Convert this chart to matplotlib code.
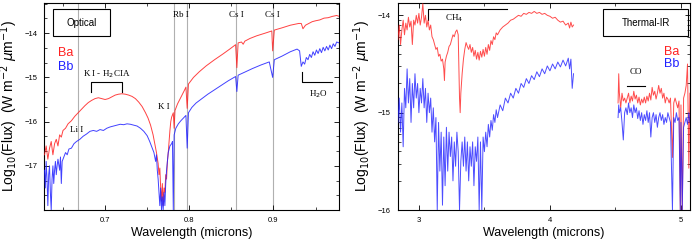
#!/usr/bin/env python3
import numpy as np
import matplotlib
matplotlib.use("Agg")
import matplotlib.pyplot as plt
from matplotlib.patches import Rectangle
from matplotlib.ticker import MultipleLocator, FixedLocator

plt.rcParams['font.family'] = ['Liberation Sans', 'DejaVu Sans']

# ---- optical spectrum, Ba (red) ----
opt_wl_a = [0.628, 0.630, 0.632, 0.634, 0.636, 0.638, 0.640, 0.642, 0.644, 0.646,
            0.648, 0.650, 0.653, 0.656, 0.660, 0.664, 0.668, 0.672, 0.676, 0.680,
            0.684, 0.688, 0.692, 0.696, 0.700, 0.704, 0.708, 0.712, 0.716, 0.720,
            0.724, 0.728, 0.732, 0.736, 0.740, 0.744, 0.748, 0.751, 0.754, 0.757,
            0.759, 0.761, 0.763, 0.764, 0.765, 0.766, 0.767, 0.768, 0.769, 0.770,
            0.771, 0.772, 0.773, 0.774, 0.775, 0.776, 0.777, 0.778, 0.779, 0.780,
            0.781, 0.782, 0.783, 0.786, 0.790, 0.794, 0.796, 0.7975, 0.799, 0.805,
            0.812, 0.820, 0.830, 0.840, 0.848, 0.855, 0.8565, 0.858, 0.862, 0.864,
            0.866, 0.872, 0.880, 0.890, 0.898, 0.899, 0.901, 0.910, 0.920, 0.930,
            0.933, 0.935, 0.938, 0.942, 0.946, 0.950, 0.955, 0.960, 0.965, 0.970,
            0.975, 0.978]
opt_fl_a = [-16.75, -16.55, -16.85, -16.60, -16.45, -16.75, -16.50, -16.40, -16.55, -16.30,
            -16.35, -16.20, -16.15, -16.05, -15.98, -15.88, -15.80, -15.72, -15.64, -15.57,
            -15.52, -15.48, -15.46, -15.48, -15.50, -15.48, -15.44, -15.40, -15.38, -15.37,
            -15.38, -15.40, -15.43, -15.48, -15.56, -15.66, -15.80, -15.92, -16.08, -16.30,
            -16.50, -16.70, -16.95, -17.20, -17.05, -17.50, -17.80, -17.40, -17.90, -17.50,
            -17.60, -17.20, -17.30, -16.90, -16.70, -16.45, -16.20, -16.00, -15.90, -15.85,
            -15.80, -16.15, -15.75, -15.60, -15.45, -15.30, -15.22, -15.70, -15.15, -15.00,
            -14.87, -14.74, -14.60, -14.47, -14.36, -14.26, -14.78, -14.22, -14.20, -14.25,
            -14.18, -14.12, -14.06, -14.00, -13.95, -14.40, -13.93, -13.88, -13.82, -13.78,
            -13.78, -13.90, -13.82, -13.78, -13.74, -13.72, -13.70, -13.66, -13.65, -13.62,
            -13.60, -13.62]

# ---- optical spectrum, Bb (blue) ----
opt_wl_b = [0.628, 0.629, 0.630, 0.631, 0.632, 0.633, 0.634, 0.635, 0.636, 0.637,
            0.638, 0.639, 0.640, 0.641, 0.642, 0.643, 0.644, 0.646, 0.647, 0.648,
            0.649, 0.651, 0.653, 0.655, 0.657, 0.660, 0.663, 0.666, 0.670, 0.674,
            0.678, 0.682, 0.686, 0.690, 0.694, 0.698, 0.702, 0.706, 0.710, 0.714,
            0.718, 0.722, 0.726, 0.730, 0.734, 0.738, 0.742, 0.746, 0.750, 0.753,
            0.756, 0.758, 0.760, 0.761, 0.762, 0.763, 0.764, 0.765, 0.766, 0.767,
            0.768, 0.769, 0.770, 0.771, 0.772, 0.773, 0.774, 0.775, 0.777, 0.779,
            0.780, 0.781, 0.782, 0.784, 0.787, 0.790, 0.794, 0.796, 0.7975, 0.799,
            0.803, 0.808, 0.815, 0.822, 0.830, 0.838, 0.846, 0.855, 0.8565, 0.858,
            0.866, 0.875, 0.885, 0.895, 0.899, 0.901, 0.910, 0.920, 0.928, 0.931,
            0.933, 0.935, 0.937, 0.939, 0.941, 0.943, 0.945, 0.947, 0.949, 0.951,
            0.953, 0.955, 0.957, 0.959, 0.961, 0.963, 0.965, 0.967, 0.969, 0.971,
            0.973, 0.975, 0.978]
opt_fl_b = [-17.10, -17.50, -16.90, -17.30, -17.90, -17.20, -17.00, -17.60, -18.00, -17.30,
            -17.00, -17.40, -17.10, -16.90, -17.20, -17.00, -16.85, -17.10, -16.80, -17.40,
            -16.90, -16.80, -16.70, -16.75, -16.62, -16.60, -16.50, -16.45, -16.40, -16.33,
            -16.28, -16.22, -16.20, -16.22, -16.18, -16.20, -16.15, -16.12, -16.10, -16.08,
            -16.06, -16.07, -16.05, -16.06, -16.08, -16.10, -16.15, -16.22, -16.32, -16.45,
            -16.60, -16.70, -16.90, -16.75, -17.10, -17.30, -17.60, -17.90, -17.50, -18.00,
            -17.70, -18.00, -17.60, -17.90, -17.40, -17.10, -16.90, -16.70, -16.55, -16.50,
            -16.45, -18.00, -16.30, -16.15, -16.05, -15.98, -15.90, -15.86, -16.60, -15.80,
            -15.68, -15.58, -15.48, -15.38, -15.28, -15.18, -15.08, -14.98, -15.32, -14.95,
            -14.88, -14.80, -14.72, -14.65, -15.00, -14.60, -14.52, -14.42, -14.36, -14.40,
            -14.75, -14.65, -14.70, -14.55, -14.60, -14.48, -14.55, -14.42, -14.50, -14.38,
            -14.46, -14.35, -14.44, -14.32, -14.40, -14.30, -14.38, -14.27, -14.35, -14.24,
            -14.30, -14.20, -14.22]

# ---- thermal-IR spectrum, Ba (red); nan marks the gap between bands ----
ir_wl_a = [2.840, 2.850, 2.860, 2.870, 2.880, 2.890, 2.900, 2.910, 2.920, 2.930,
           2.940, 2.950, 2.960, 2.970, 2.980, 2.990, 3.000, 3.010, 3.020, 3.030,
           3.040, 3.050, 3.060, 3.070, 3.080, 3.090, 3.100, 3.110, 3.120, 3.130,
           3.140, 3.150, 3.160, 3.170, 3.180, 3.190, 3.195, 3.200, 3.210, 3.220,
           3.230, 3.240, 3.250, 3.260, 3.270, 3.280, 3.290, 3.300, 3.305, 3.310,
           3.315, 3.320, 3.330, 3.340, 3.350, 3.360, 3.370, 3.380, 3.390, 3.400,
           3.410, 3.420, 3.430, 3.440, 3.450, 3.460, 3.470, 3.480, 3.490, 3.500,
           3.510, 3.520, 3.530, 3.540, 3.550, 3.560, 3.570, 3.580, 3.590, 3.600,
           3.620, 3.640, 3.660, 3.680, 3.700, 3.720, 3.740, 3.760, 3.780, 3.800,
           3.820, 3.840, 3.860, 3.880, 3.900, 3.920, 3.940, 3.960, 3.980, 4.000,
           4.020, 4.040, 4.060, 4.080, 4.100, 4.120, 4.140, 4.150, 4.160, 4.170,
           4.180, 4.350,
           4.520, 4.525, 4.530, 4.540, 4.550, 4.560, 4.570, 4.580, 4.590, 4.600,
           4.610, 4.620, 4.630, 4.640, 4.650, 4.660, 4.670, 4.680, 4.690, 4.700,
           4.710, 4.720, 4.730, 4.740, 4.750, 4.760, 4.770, 4.780, 4.790, 4.800,
           4.810, 4.820, 4.830, 4.840, 4.850, 4.860, 4.870, 4.880, 4.890, 4.900,
           4.910, 4.920, 4.935, 4.945, 4.955, 4.965, 4.975, 4.985, 4.995, 5.000,
           5.010, 5.020, 5.030, 5.040, 5.050, 5.060, 5.068]
ir_fl_a = [-14.25, -14.10, -14.30, -14.15, -14.05, -14.20, -14.08, -14.15, -14.02, -14.12,
           -14.06, -14.30, -14.05, -14.10, -14.00, -14.08, -13.98, -14.10, -14.02, -13.88,
           -14.08, -14.00, -14.12, -14.05, -14.15, -14.10, -14.22, -14.25, -14.30, -14.35,
           -14.33, -14.42, -14.40, -14.47, -14.45, -14.55, -14.67, -14.48, -14.42, -14.38,
           -14.32, -14.30, -14.25, -14.20, -14.22, -14.17, -14.15, -14.20, -14.50, -14.85,
           -15.00, -14.80, -14.60, -14.45, -14.35, -14.28, -14.32, -14.35, -14.30, -14.38,
           -14.33, -14.42, -14.36, -14.45, -14.38, -14.46, -14.37, -14.43, -14.35, -14.42,
           -14.33, -14.40, -14.30, -14.36, -14.26, -14.30, -14.22, -14.25, -14.18, -14.20,
           -14.15, -14.12, -14.10, -14.08, -14.05, -14.04, -14.02, -14.00, -14.01, -13.98,
           -13.99, -13.97, -13.98, -13.96, -13.98, -13.97, -13.99, -13.98, -14.00, -14.01,
           -14.03, -14.02, -14.05, -14.07, -14.06, -14.10, -14.08, -14.13, -14.07, -14.12,
           -14.10, np.nan,
           -14.90, -14.60, -14.80, -14.95, -14.80, -14.88, -14.85, -14.90, -14.85, -14.80,
           -14.90, -14.83, -14.88, -14.78, -14.86, -14.82, -14.90, -14.84, -14.92, -14.86,
           -14.90, -14.84, -14.90, -14.83, -14.88, -14.80, -14.87, -14.74, -14.82, -14.78,
           -14.86, -14.80, -14.72, -14.80, -14.75, -14.85, -14.80, -14.90, -14.84, -14.86,
           -14.90, -14.85, -15.46, -14.90, -14.85, -14.90, -14.95, -14.88, -16.00, -14.92,
           -16.00, -14.85, -14.80, -14.72, -14.50, -15.57, -14.80]

# ---- thermal-IR spectrum, Bb (blue) ----
ir_wl_b = [2.840, 2.850, 2.860, 2.870, 2.880, 2.890, 2.900, 2.910, 2.920, 2.930,
           2.940, 2.950, 2.960, 2.970, 2.980, 2.990, 3.000, 3.010, 3.020, 3.030,
           3.040, 3.050, 3.060, 3.070, 3.080, 3.090, 3.100, 3.110, 3.120, 3.130,
           3.140, 3.150, 3.160, 3.170, 3.180, 3.190, 3.200, 3.210, 3.220, 3.230,
           3.240, 3.250, 3.260, 3.270, 3.280, 3.290, 3.300, 3.310, 3.320, 3.330,
           3.340, 3.350, 3.360, 3.370, 3.380, 3.390, 3.400, 3.410, 3.420, 3.430,
           3.440, 3.450, 3.460, 3.470, 3.480, 3.490, 3.500, 3.510, 3.520, 3.530,
           3.540, 3.550, 3.560, 3.570, 3.580, 3.590, 3.600, 3.620, 3.640, 3.660,
           3.680, 3.700, 3.720, 3.740, 3.760, 3.780, 3.800, 3.820, 3.840, 3.860,
           3.880, 3.900, 3.920, 3.940, 3.960, 3.980, 4.000, 4.020, 4.040, 4.060,
           4.080, 4.100, 4.120, 4.140, 4.150, 4.160, 4.170, 4.180, 4.350,
           4.520, 4.525, 4.530, 4.540, 4.550, 4.560, 4.570, 4.580, 4.590, 4.600,
           4.610, 4.620, 4.630, 4.640, 4.650, 4.660, 4.670, 4.680, 4.690, 4.700,
           4.710, 4.720, 4.730, 4.740, 4.750, 4.760, 4.770, 4.780, 4.790, 4.800,
           4.810, 4.820, 4.830, 4.840, 4.850, 4.860, 4.870, 4.880, 4.890, 4.900,
           4.910, 4.920, 4.935, 4.945, 4.955, 4.965, 4.975, 4.985, 4.995, 5.000,
           5.010, 5.020, 5.030, 5.040, 5.050, 5.060, 5.068]
ir_fl_b = [-15.10, -14.85, -15.20, -14.90, -15.35, -14.75, -14.95, -14.55, -14.90, -14.65,
           -15.10, -14.70, -14.95, -14.60, -14.85, -14.70, -15.00, -14.75, -14.90, -14.65,
           -14.95, -14.75, -15.10, -14.80, -15.00, -14.85, -15.20, -14.95, -15.30, -15.05,
           -16.00, -15.10, -15.60, -15.20, -15.95, -15.25, -15.75, -15.15, -15.60, -15.20,
           -15.45, -15.25, -15.70, -15.30, -15.55, -15.20, -15.40, -16.00, -15.50, -15.30,
           -15.55, -15.25, -15.60, -15.30, -15.70, -15.35, -15.55, -15.30, -15.75, -15.35,
           -15.50, -15.25, -16.00, -15.30, -16.00, -15.25, -15.40, -15.20, -15.35, -15.12,
           -15.25, -15.08, -15.18, -15.02, -15.10, -14.97, -15.05, -14.92, -14.98, -14.85,
           -14.90, -14.80, -14.85, -14.75, -14.80, -14.70, -14.74, -14.65, -14.70, -14.62,
           -14.66, -14.58, -14.63, -14.55, -14.60, -14.52, -14.57, -14.50, -14.55, -14.48,
           -14.53, -14.46, -14.52, -14.44, -14.55, -14.45, -14.75, -14.60, np.nan,
           -15.05, -14.92, -15.00, -14.95, -15.10, -15.28, -15.00, -14.95, -15.02, -14.90,
           -15.00, -14.95, -15.05, -14.92, -15.00, -14.95, -15.06, -14.98, -15.08, -15.00,
           -15.12, -15.02, -15.08, -14.98, -15.10, -15.00, -15.25, -15.05, -15.00, -15.10,
           -15.02, -15.15, -15.05, -15.00, -15.08, -15.02, -15.12, -15.05, -15.10, -15.00,
           -15.05, -15.10, -16.00, -15.05, -15.10, -15.00, -15.08, -15.05, -16.00, -15.10,
           -16.00, -15.15, -15.10, -15.05, -15.12, -15.00, -15.10]

# atomic lines marked in the optical panel
atomic_lines = [0.668, 0.782, 0.797, 0.856, 0.899]

RED = '#ff2020'
BLUE = '#2020ff'
SERIF = ['Liberation Serif', 'DejaVu Serif']
YLAB = r'Log$_{10}$(Flux)  (W m$^{-2}$ $\mu$m$^{-1}$)'

fig = plt.figure(figsize=(6.95, 2.42), dpi=100)
ax1 = fig.add_axes([0.064, 0.132, 0.424, 0.857])
ax2 = fig.add_axes([0.572, 0.132, 0.421, 0.857])

# ---------- optical ----------
for x in atomic_lines:
    ax1.axvline(x, color='#b0b0b0', lw=0.8, zorder=1)
ax1.plot(opt_wl_a, opt_fl_a, color=RED, lw=0.7, alpha=0.85, zorder=3)
ax1.plot(opt_wl_b, opt_fl_b, color=BLUE, lw=0.7, alpha=0.85, zorder=3)
ax1.set_xlim(0.628, 0.978)
ax1.set_ylim(-18.0, -13.31)
ax1.set_xticks([0.7, 0.8, 0.9])
ax1.set_yticks([-17, -16, -15, -14])
ax1.xaxis.set_minor_locator(MultipleLocator(0.05))
ax1.yaxis.set_minor_locator(MultipleLocator(1 / 3))

ax1.add_patch(Rectangle((0.028, 0.839), 0.193, 0.129, transform=ax1.transAxes,
                        fill=False, lw=0.8, color='k'))
ax1.text(0.1245, 0.903, 'Optical', transform=ax1.transAxes, fontsize=7,
         ha='center', va='center')
ax1.text(0.045, 0.756, 'Ba', transform=ax1.transAxes, color=RED, fontsize=9, va='center')
ax1.text(0.045, 0.691, 'Bb', transform=ax1.transAxes, color=BLUE, fontsize=9, va='center')

ax1.text(0.7015, -14.93, r'K I - H$_2$CIA', family=SERIF, fontsize=6.5, ha='center', va='center')
ax1.plot([0.683, 0.683, 0.720, 0.720], [-15.34, -15.10, -15.10, -15.34], color='k', lw=0.8)
ax1.text(0.666, -16.2, 'Li I', family=SERIF, fontsize=6.5, ha='center', va='center')
ax1.text(0.7696, -15.68, 'K I', family=SERIF, fontsize=6.5, ha='center', va='center')
ax1.text(0.7895, -13.58, 'Rb I', family=SERIF, fontsize=6.5, ha='center', va='center')
ax1.text(0.8555, -13.58, 'Cs I', family=SERIF, fontsize=6.5, ha='center', va='center')
ax1.text(0.8985, -13.58, 'Cs I', family=SERIF, fontsize=6.5, ha='center', va='center')
ax1.plot([0.934, 0.934, 0.970], [-14.87, -15.11, -15.11], color='k', lw=0.8)
ax1.text(0.953, -15.37, r'H$_2$O', family=SERIF, fontsize=6.5, ha='center', va='center')

# ---------- thermal-IR ----------
ax2.plot(ir_wl_a, ir_fl_a, color=RED, lw=0.7, alpha=0.8, zorder=3)
ax2.plot(ir_wl_b, ir_fl_b, color=BLUE, lw=0.7, alpha=0.8, zorder=3)
ax2.set_xlim(2.837, 5.07)
ax2.set_ylim(-16.0, -13.87)
ax2.set_xticks([3, 4, 5])
ax2.set_yticks([-16, -15, -14])
ax2.xaxis.set_minor_locator(MultipleLocator(0.5))
ax2.yaxis.set_minor_locator(FixedLocator(
    [e + np.log10(k) for e in (-16, -15, -14) for k in range(2, 10)]))

ax2.add_patch(Rectangle((0.701, 0.839), 0.293, 0.129, transform=ax2.transAxes,
                        fill=False, lw=0.8, color='k'))
ax2.text(0.8475, 0.903, 'Thermal-IR', transform=ax2.transAxes, fontsize=7,
         ha='center', va='center')
ax2.text(0.937, 0.764, 'Ba', transform=ax2.transAxes, color=RED, fontsize=9,
         ha='center', va='center')
ax2.text(0.937, 0.705, 'Bb', transform=ax2.transAxes, color=BLUE, fontsize=9,
         ha='center', va='center')
ax2.plot([3.07, 3.07, 3.67], [-14.05, -13.93, -13.93], color='k', lw=0.8)
ax2.text(3.27, -14.03, r'CH$_4$', family=SERIF, fontsize=6.5, ha='center', va='center')
ax2.plot([4.59, 4.725], [-14.73, -14.73], color='k', lw=0.8)
ax2.text(4.655, -14.58, 'CO', family=SERIF, fontsize=6.5, ha='center', va='center')

for ax in (ax1, ax2):
    ax.tick_params(which='both', direction='in', top=True, right=True, labelsize=5.5)
    ax.tick_params(which='major', length=3.5, width=0.6, pad=5)
    ax.tick_params(which='minor', length=2, width=0.5)
    for s in ax.spines.values():
        s.set_linewidth(0.8)
    ax.set_xlabel('Wavelength (microns)', fontsize=9, labelpad=2)
    ax.set_ylabel(YLAB, fontsize=10, labelpad=3)

fig.savefig('out.png', dpi=100)
